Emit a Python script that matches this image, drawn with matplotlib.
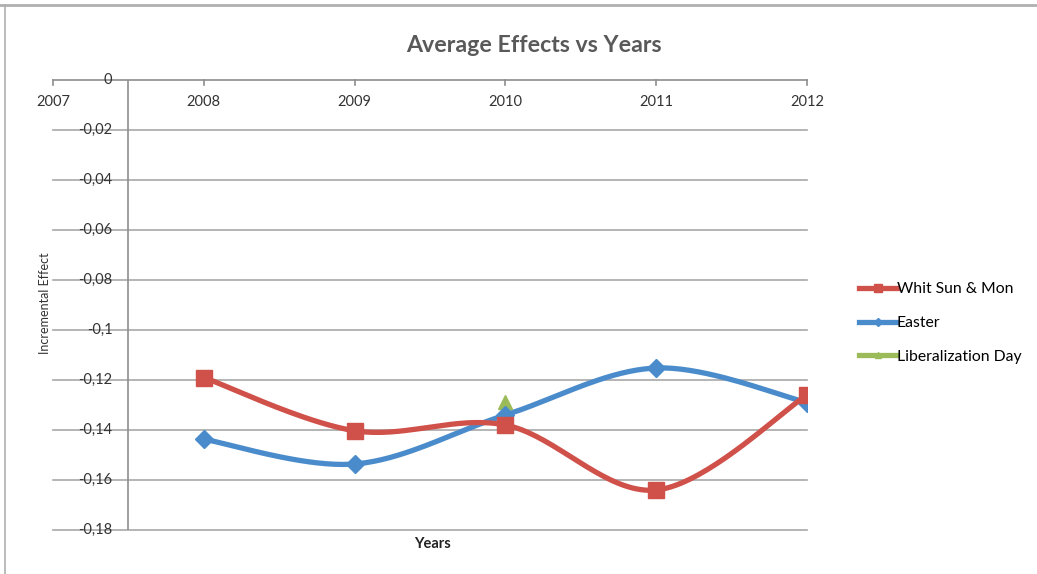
import numpy as np
import matplotlib
matplotlib.use("Agg")
import matplotlib.pyplot as plt
from matplotlib.lines import Line2D
import matplotlib.transforms as mtransforms

# ---- data ----
years_axis = [2007, 2008, 2009, 2010, 2011, 2012]
years = [2008, 2009, 2010, 2011, 2012]
whit = [-0.119, -0.1403, -0.138, -0.164, -0.126]
easter = [-0.1437, -0.1536, -0.134, -0.1152, -0.129]
lib_years = [2010]
lib = [-0.1287]
yticks = [0, -0.02, -0.04, -0.06, -0.08, -0.1, -0.12, -0.14, -0.16, -0.18]
ytick_labels = ["0", "-0,02", "-0,04", "-0,06", "-0,08", "-0,1", "-0,12", "-0,14", "-0,16", "-0,18"]

plt.rcParams['font.family'] = ['Lato', 'DejaVu Sans']

W, H = 1037, 574
fig = plt.figure(figsize=(W / 100, H / 100), dpi=100)
ax = fig.add_axes([53 / W, 1 - 530 / H, (807 - 53) / W, (530 - 80) / H])
ax.set_xlim(2007, 2012)
ax.set_ylim(-0.18, 0)
for s in ax.spines.values():
    s.set_visible(False)
ax.set_xticks([])
ax.set_yticks([])

grid_c = '#A8A8A8'
axis_c = '#8E8E8E'
for yv in yticks:
    ax.axhline(yv, color=grid_c if yv != 0 else axis_c, lw=1.2, zorder=1, clip_on=False)
ax.axvline(2007.5, color=axis_c, lw=1.2, zorder=1)
# top axis tick marks
ticktrans = mtransforms.blended_transform_factory(ax.transData, ax.transAxes)
for yr in years_axis:
    ax.plot([yr, yr], [1.0, 1.0 - 5 / 450], color=axis_c, lw=1.2, transform=ticktrans, clip_on=False, zorder=1)

# tick labels
lab_trans = mtransforms.blended_transform_factory(ax.transData, ax.transData)
for yv, lab in zip(yticks, ytick_labels):
    ax.text(2007.5, yv, lab, transform=lab_trans + mtransforms.ScaledTranslation(-16 / 100, 0, fig.dpi_scale_trans),
            ha='right', va='center', fontsize=10.5, color='#333333', zorder=3)
for yr in years_axis:
    ax.text(yr, 0, str(yr), transform=lab_trans + mtransforms.ScaledTranslation(0, -22 / 100, fig.dpi_scale_trans),
            ha='center', va='center', fontsize=10.5, color='#333333', zorder=3)


def smooth(x, y, n=40):
    x = np.asarray(x, float)
    y = np.asarray(y, float)
    P = np.column_stack([x, y])
    if len(P) < 2:
        return x, y
    ext = np.vstack([P[0], P, P[-1]])
    out = []
    t = np.linspace(0, 1, n)[:, None]
    for i in range(1, len(ext) - 2):
        p0, p1, p2, p3 = ext[i - 1], ext[i], ext[i + 1], ext[i + 2]
        c1 = p1 + (p2 - p0) / 6
        c2 = p2 - (p3 - p1) / 6
        seg = ((1 - t) ** 3) * p1 + 3 * ((1 - t) ** 2) * t * c1 + 3 * (1 - t) * t ** 2 * c2 + t ** 3 * p2
        out.append(seg if i == 1 else seg[1:])
    out = np.vstack(out)
    return out[:, 0], out[:, 1]


red = '#D0504A'
blue = '#4A8CCB'
green = '#9BBB59'

sx, sy = smooth(years, easter)
ax.plot(sx, sy, color=blue, lw=3.8, zorder=4, solid_capstyle='round')
ax.plot(years, easter, ls='none', marker='D', ms=9, color=blue, zorder=5)
ax.plot(lib_years, lib, ls='none', marker='^', ms=10, color=green, zorder=4.5)
sx, sy = smooth(years, whit)
ax.plot(sx, sy, color=red, lw=3.8, zorder=6, solid_capstyle='round')
ax.plot(years, whit, ls='none', marker='s', ms=12, color=red, zorder=7)

handles = [
    Line2D([], [], color=red, lw=3.8, marker='s', ms=6),
    Line2D([], [], color=blue, lw=3.8, marker='D', ms=4),
    Line2D([], [], color=green, lw=3.8, marker='^', ms=5),
]
labels = ['Whit Sun & Mon', 'Easter', 'Liberalization Day']
fig.legend(handles, labels, loc='center left', bbox_to_anchor=(853 / W, 1 - 323 / H),
           frameon=False, fontsize=11.3, handlelength=2.4, handletextpad=0.0,
           labelspacing=1.26, borderaxespad=0)

fig.text(534 / W, 1 - 45 / H, 'Average Effects vs Years', ha='center', va='center',
         fontsize=16.7, fontweight='bold', color='#595959')
fig.text(432 / W, 1 - 544 / H, 'Years', ha='center', va='center', fontsize=10.5,
         fontweight='bold', color='#222222')
fig.text(45 / W, 1 - 303 / H, 'Incremental Effect', ha='center', va='center', rotation=90,
         fontsize=9, color='#333333')

# outer frame (partial, as in the screenshot)
fig.add_artist(Line2D([0, 1], [1 - 4.5 / H, 1 - 4.5 / H], color='#B0B0B0', lw=2, transform=fig.transFigure))
fig.add_artist(Line2D([5 / W, 5 / W], [0, 1 - 4.5 / H], color='#B0B0B0', lw=1.2, transform=fig.transFigure))

fig.savefig('out.png', dpi=100, facecolor='white')
